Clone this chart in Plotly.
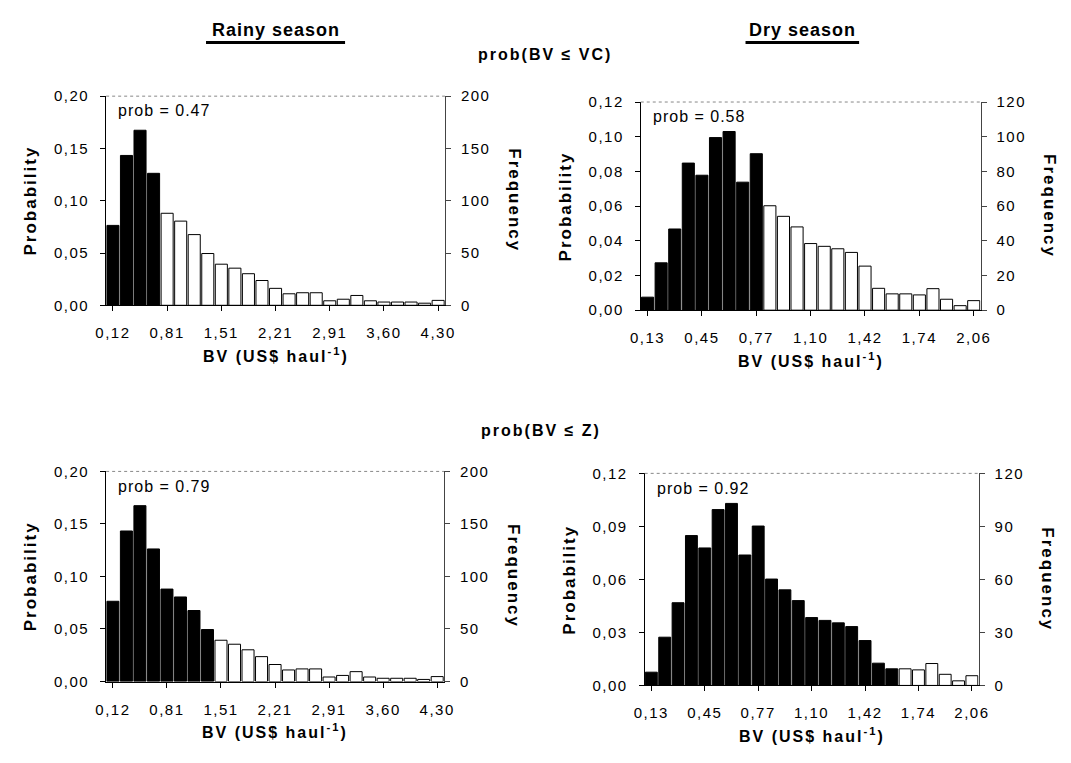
import plotly.graph_objects as go

# ---------------- data ----------------
n_bins = 25
bin_index = list(range(n_bins))

rainy_tick_labels = ["0,12", "0,81", "1,51", "2,21", "2,91", "3,60", "4,30"]
dry_tick_labels = ["0,13", "0,45", "0,77", "1,10", "1,42", "1,74", "2,06"]
tick_every = 4

rainy_prob = [0.0764, 0.1433, 0.1674, 0.1262, 0.0880, 0.0805, 0.0676, 0.0495,
              0.0393, 0.0355, 0.0302, 0.0237, 0.0162, 0.0110, 0.0120, 0.0120,
              0.0043, 0.0058, 0.0094, 0.0043, 0.0031, 0.0031, 0.0031, 0.0020,
              0.0047]
dry_prob = [0.0075, 0.0273, 0.0468, 0.0848, 0.0778, 0.0995, 0.1030, 0.0738,
            0.0902, 0.0602, 0.0541, 0.0480, 0.0384, 0.0368, 0.0354, 0.0333,
            0.0254, 0.0126, 0.0094, 0.0094, 0.0088, 0.0124, 0.0063, 0.0026,
            0.0055]
sample_size = 1000  # frequency = probability x sample size

# number of leading bins below the threshold (black bars)
rainy_black_vc = 4
dry_black_vc = 9
rainy_black_z = 8
dry_black_z = 19

# axis tick values / labels
rainy_prob_ticks = [0.00, 0.05, 0.10, 0.15, 0.20]
rainy_prob_labels = ["0,00", "0,05", "0,10", "0,15", "0,20"]
rainy_freq_ticks = [0, 50, 100, 150, 200]
dry_vc_prob_ticks = [0.00, 0.02, 0.04, 0.06, 0.08, 0.10, 0.12]
dry_vc_prob_labels = ["0,00", "0,02", "0,04", "0,06", "0,08", "0,10", "0,12"]
dry_vc_freq_ticks = [0, 20, 40, 60, 80, 100, 120]
dry_z_prob_ticks = [0.00, 0.03, 0.06, 0.09, 0.12]
dry_z_prob_labels = ["0,00", "0,03", "0,06", "0,09", "0,12"]
dry_z_freq_ticks = [0, 30, 60, 90, 120]

prob_labels = ["prob = 0.47", "prob = 0.58", "prob = 0.79", "prob = 0.92"]
season_titles = ["Rainy season", "Dry season"]
row_titles = ["prob(BV \u2264 VC)", "prob(BV \u2264 Z)"]
x_title = "BV (US$ haul<sup>-1</sup>)"
y_title = "Probability"
y2_title = "Frequency"

# ---------------- layout helpers ----------------
OFF = 8                      # page body margin
W, H = 1071 - 2 * OFF, 763 - 2 * OFF
FONT = "Liberation Sans, Arial, sans-serif"


def px(x):
    return (x - OFF) / W


def py(y):
    return 1 - (y - OFF) / H


def spaced(s, ls=1.5):
    return f'<span style="letter-spacing:{ls}px">{s}</span>'


# plot-area boxes in reference pixels: (left, right, top, bottom)
boxes = [(97, 443, 89, 303), (643, 990, 95, 308),
         (97, 442, 473, 688), (647, 988, 475, 692)]

panels = [
    dict(prob=rainy_prob, n_black=rainy_black_vc, ticks=rainy_tick_labels,
         yrange=[0, 0.20], yt=rainy_prob_ticks, yl=rainy_prob_labels,
         y2range=[0, 200], y2t=rainy_freq_ticks),
    dict(prob=dry_prob, n_black=dry_black_vc, ticks=dry_tick_labels,
         yrange=[0, 0.12], yt=dry_vc_prob_ticks, yl=dry_vc_prob_labels,
         y2range=[0, 120], y2t=dry_vc_freq_ticks),
    dict(prob=rainy_prob, n_black=rainy_black_z, ticks=rainy_tick_labels,
         yrange=[0, 0.20], yt=rainy_prob_ticks, yl=rainy_prob_labels,
         y2range=[0, 200], y2t=rainy_freq_ticks),
    dict(prob=dry_prob, n_black=dry_black_z, ticks=dry_tick_labels,
         yrange=[0, 0.12], yt=dry_z_prob_ticks, yl=dry_z_prob_labels,
         y2range=[0, 120], y2t=dry_z_freq_ticks),
]

fig = go.Figure()
layout = dict(
    width=W, height=H, margin=dict(l=0, r=0, t=0, b=0),
    paper_bgcolor="white", plot_bgcolor="white",
    showlegend=False, separators=",.", bargap=0.11,
    font=dict(family=FONT, size=15, color="black"),
)
annotations = []
shapes = []

tick_font = dict(family=FONT, size=15, color="black")
title_font = dict(family=FONT, size=17, color="black")

for i, (p, box) in enumerate(zip(panels, boxes)):
    k = i + 1
    xa = "x" if k == 1 else f"x{k}"
    ya = "y" if k == 1 else f"y{k}"
    y2 = f"y{k + 4}"
    l, r, t, b = box
    colors = ["black" if j < p["n_black"] else "white" for j in bin_index]
    fig.add_trace(go.Bar(
        x=bin_index, y=p["prob"], xaxis=xa, yaxis=ya,
        marker=dict(color=colors, line=dict(color="black", width=1)),
        hoverinfo="y",
    ))
    freq = [v * sample_size for v in p["prob"]]
    fig.add_trace(go.Scatter(
        x=bin_index, y=freq, xaxis=xa, yaxis=y2, mode="markers",
        marker=dict(opacity=0, size=1), hoverinfo="skip",
    ))
    layout[f"xaxis{k}" if k > 1 else "xaxis"] = dict(
        domain=[px(l), px(r)], anchor=ya, range=[-0.5, n_bins - 0.5],
        tickmode="array",
        tickvals=bin_index[::tick_every],
        ticktext=[spaced(s) for s in p["ticks"]],
        showline=True, linecolor="black", linewidth=1,
        ticks="outside", ticklen=5, tickcolor="black",
        ticklabelstandoff=9, tickfont=tick_font,
        showgrid=False, zeroline=False, fixedrange=True,
    )
    layout[f"yaxis{k}" if k > 1 else "yaxis"] = dict(
        domain=[py(b), py(t)], anchor=xa, range=p["yrange"],
        tickmode="array", tickvals=p["yt"],
        ticktext=[spaced(s) for s in p["yl"]],
        showline=True, linecolor="black", linewidth=1,
        ticks="outside", ticklen=5, tickcolor="black",
        ticklabelstandoff=8, tickfont=tick_font,
        showgrid=False, zeroline=False, fixedrange=True,
    )
    layout[f"yaxis{k + 4}"] = dict(
        overlaying=ya, anchor=xa, side="right", range=p["y2range"],
        tickmode="array", tickvals=p["y2t"],
        ticktext=[spaced(str(v)) for v in p["y2t"]],
        showline=True, linecolor="#444444", linewidth=1,
        ticks="outside", ticklen=5, tickcolor="#444444",
        ticklabelstandoff=7, tickfont=tick_font,
        showgrid=False, zeroline=False, fixedrange=True,
    )
    # top border (dotted grey as in the scan)
    shapes.append(dict(type="line", xref="paper", yref="paper",
                       x0=px(l), x1=px(r), y0=py(t), y1=py(t),
                       line=dict(color="#888888", width=1, dash="dot")))
    # prob annotation
    annotations.append(dict(
        text=spaced(prob_labels[i], 1), xref=f"{xa} domain",
        yref=f"{ya} domain",
        x=0.03, y=0.93, xanchor="left", yanchor="middle", showarrow=False,
        font=dict(family=FONT, size=16, color="black")))
    # axis titles
    cy = (t + b) / 2
    cx = (l + r) / 2
    annotations.append(dict(
        text=spaced(f"<b>{y_title}</b>", 2), xref="paper", yref="paper",
        x=px(l - 77), y=py(cy), textangle=-90, showarrow=False,
        xanchor="center", yanchor="middle", font=title_font))
    annotations.append(dict(
        text=spaced(f"<b>{y2_title}</b>", 2), xref="paper", yref="paper",
        x=px(r + 71), y=py(cy), textangle=90, showarrow=False,
        xanchor="center", yanchor="middle", font=title_font))
    annotations.append(dict(
        text=spaced(f"<b>{x_title}</b>", 2), xref="paper", yref="paper",
        x=px(cx), y=py(b + 51), showarrow=False,
        xanchor="center", yanchor="middle",
        font=dict(family=FONT, size=16, color="black")))

# season titles with thick underline
for title, cx, half in zip(season_titles, [270, 808], [71, 58]):
    annotations.append(dict(
        text=spaced(f"<b>{title}</b>", 1), xref="paper", yref="paper",
        x=px(cx), y=py(21), showarrow=False, xanchor="center",
        yanchor="middle", font=dict(family=FONT, size=18, color="black")))
    shapes.append(dict(type="line", xref="paper", yref="paper",
                       x0=px(cx - half), x1=px(cx + half),
                       y0=py(34), y1=py(34),
                       line=dict(color="black", width=3)))

for title, (cx, cy) in zip(row_titles, [(545, 46), (541, 431)]):
    annotations.append(dict(
        text=spaced(f"<b>{title}</b>", 2), xref="paper", yref="paper",
        x=px(cx), y=py(cy), showarrow=False, xanchor="center",
        yanchor="middle", font=dict(family=FONT, size=16, color="black")))

layout["annotations"] = annotations
layout["shapes"] = shapes
fig.update_layout(**layout)
fig.write_html("out.html")
